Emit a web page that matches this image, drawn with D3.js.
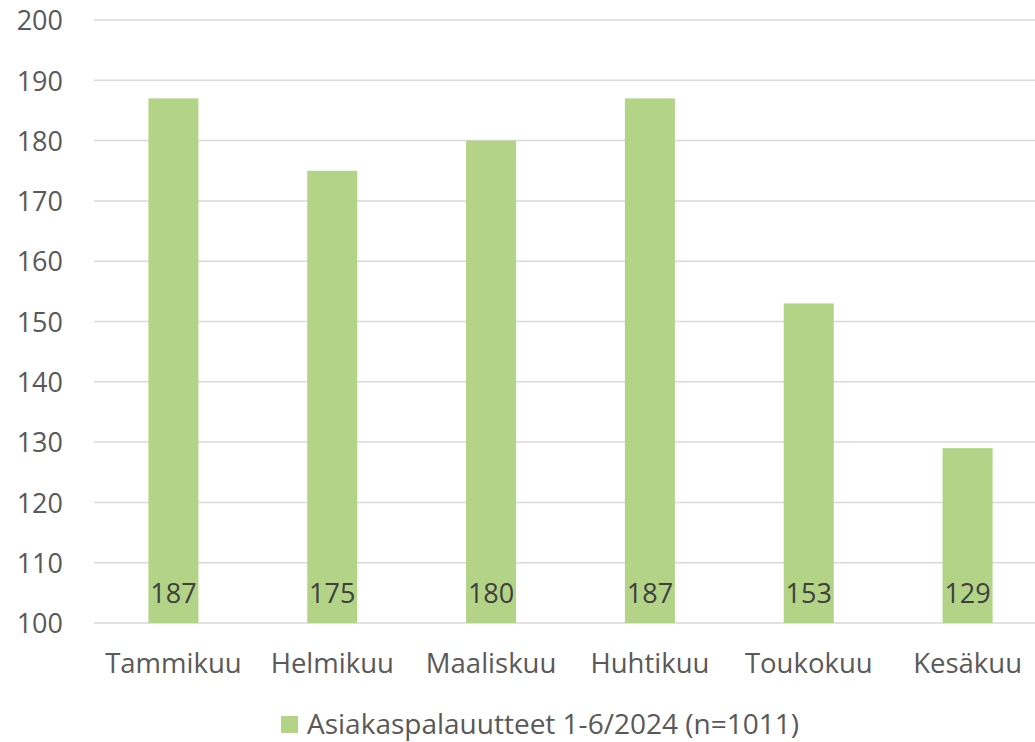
<!DOCTYPE html>
<html>
<head>
<meta charset="utf-8">
<script src="https://cdn.jsdelivr.net/npm/d3@7"></script>
<style>
  html, body { margin: 0; padding: 0; background: #fff; }
  svg { display: block; font-family: "Open Sans", sans-serif; }
</style>
</head>
<body>
<svg id="chart" width="1035" height="742"></svg>
<script>
// Monthly customer feedback counts, January–June 2024
const months = ["Tammikuu", "Helmikuu", "Maaliskuu", "Huhtikuu", "Toukokuu", "Kesäkuu"];
const feedback = [187, 175, 180, 187, 153, 129];
const yTicks = [100, 110, 120, 130, 140, 150, 160, 170, 180, 190, 200];
const seriesName = "Asiakaspalauutteet 1-6/2024 (n=1011)";

const barColor = "#b3d486";
const gridColor = "#d9d9d9";
const axisText = "#595959";
const labelText = "#404040";

const svg = d3.select("#chart");
const W = 1035;

const x = d3.scaleBand()
  .domain(months)
  .range([94, 1047])
  .paddingInner(0.685)
  .paddingOuter(0.3425);

const y = d3.scaleLinear()
  .domain([100, 200])
  .range([623, 20]);

// horizontal gridlines
svg.append("g")
  .selectAll("line")
  .data(yTicks)
  .join("line")
  .attr("x1", 94)
  .attr("x2", W)
  .attr("y1", d => y(d))
  .attr("y2", d => y(d))
  .attr("stroke", gridColor)
  .attr("stroke-width", 1.5);

// y axis labels
const yAxis = d3.axisLeft(y).tickValues(yTicks).tickSize(0).tickPadding(0);
svg.append("g")
  .attr("transform", "translate(63,0)")
  .call(yAxis)
  .call(g => g.select(".domain").remove())
  .call(g => g.selectAll("text")
    .attr("fill", axisText)
    .attr("font-size", 27)
    .attr("font-family", "Open Sans, sans-serif")
    .attr("dy", "0.36em"));

// bars
svg.append("g")
  .selectAll("rect")
  .data(feedback)
  .join("rect")
  .attr("x", (d, i) => x(months[i]))
  .attr("width", x.bandwidth())
  .attr("y", d => y(d))
  .attr("height", d => y(100) - y(d))
  .attr("fill", barColor);

// value labels near the base of each bar
svg.append("g")
  .selectAll("text")
  .data(feedback)
  .join("text")
  .attr("x", (d, i) => x(months[i]) + x.bandwidth() / 2)
  .attr("y", 603)
  .attr("text-anchor", "middle")
  .attr("fill", labelText)
  .attr("font-size", 27)
  .text(d => d);

// category axis
const xAxis = d3.axisBottom(x).tickSize(0).tickPadding(0);
svg.append("g")
  .attr("transform", "translate(0,673)")
  .call(xAxis)
  .call(g => g.select(".domain").remove())
  .call(g => g.selectAll("text")
    .attr("fill", axisText)
    .attr("font-size", 27.5)
    .attr("font-family", "Open Sans, sans-serif")
    .attr("dy", "0"));

// legend
const legend = svg.append("g").attr("transform", "translate(281,716)");
legend.append("rect")
  .attr("width", 17)
  .attr("height", 17)
  .attr("fill", barColor);
legend.append("text")
  .attr("x", 26)
  .attr("y", 18)
  .attr("fill", axisText)
  .attr("font-size", 28)
  .text(seriesName);
</script>
</body>
</html>
